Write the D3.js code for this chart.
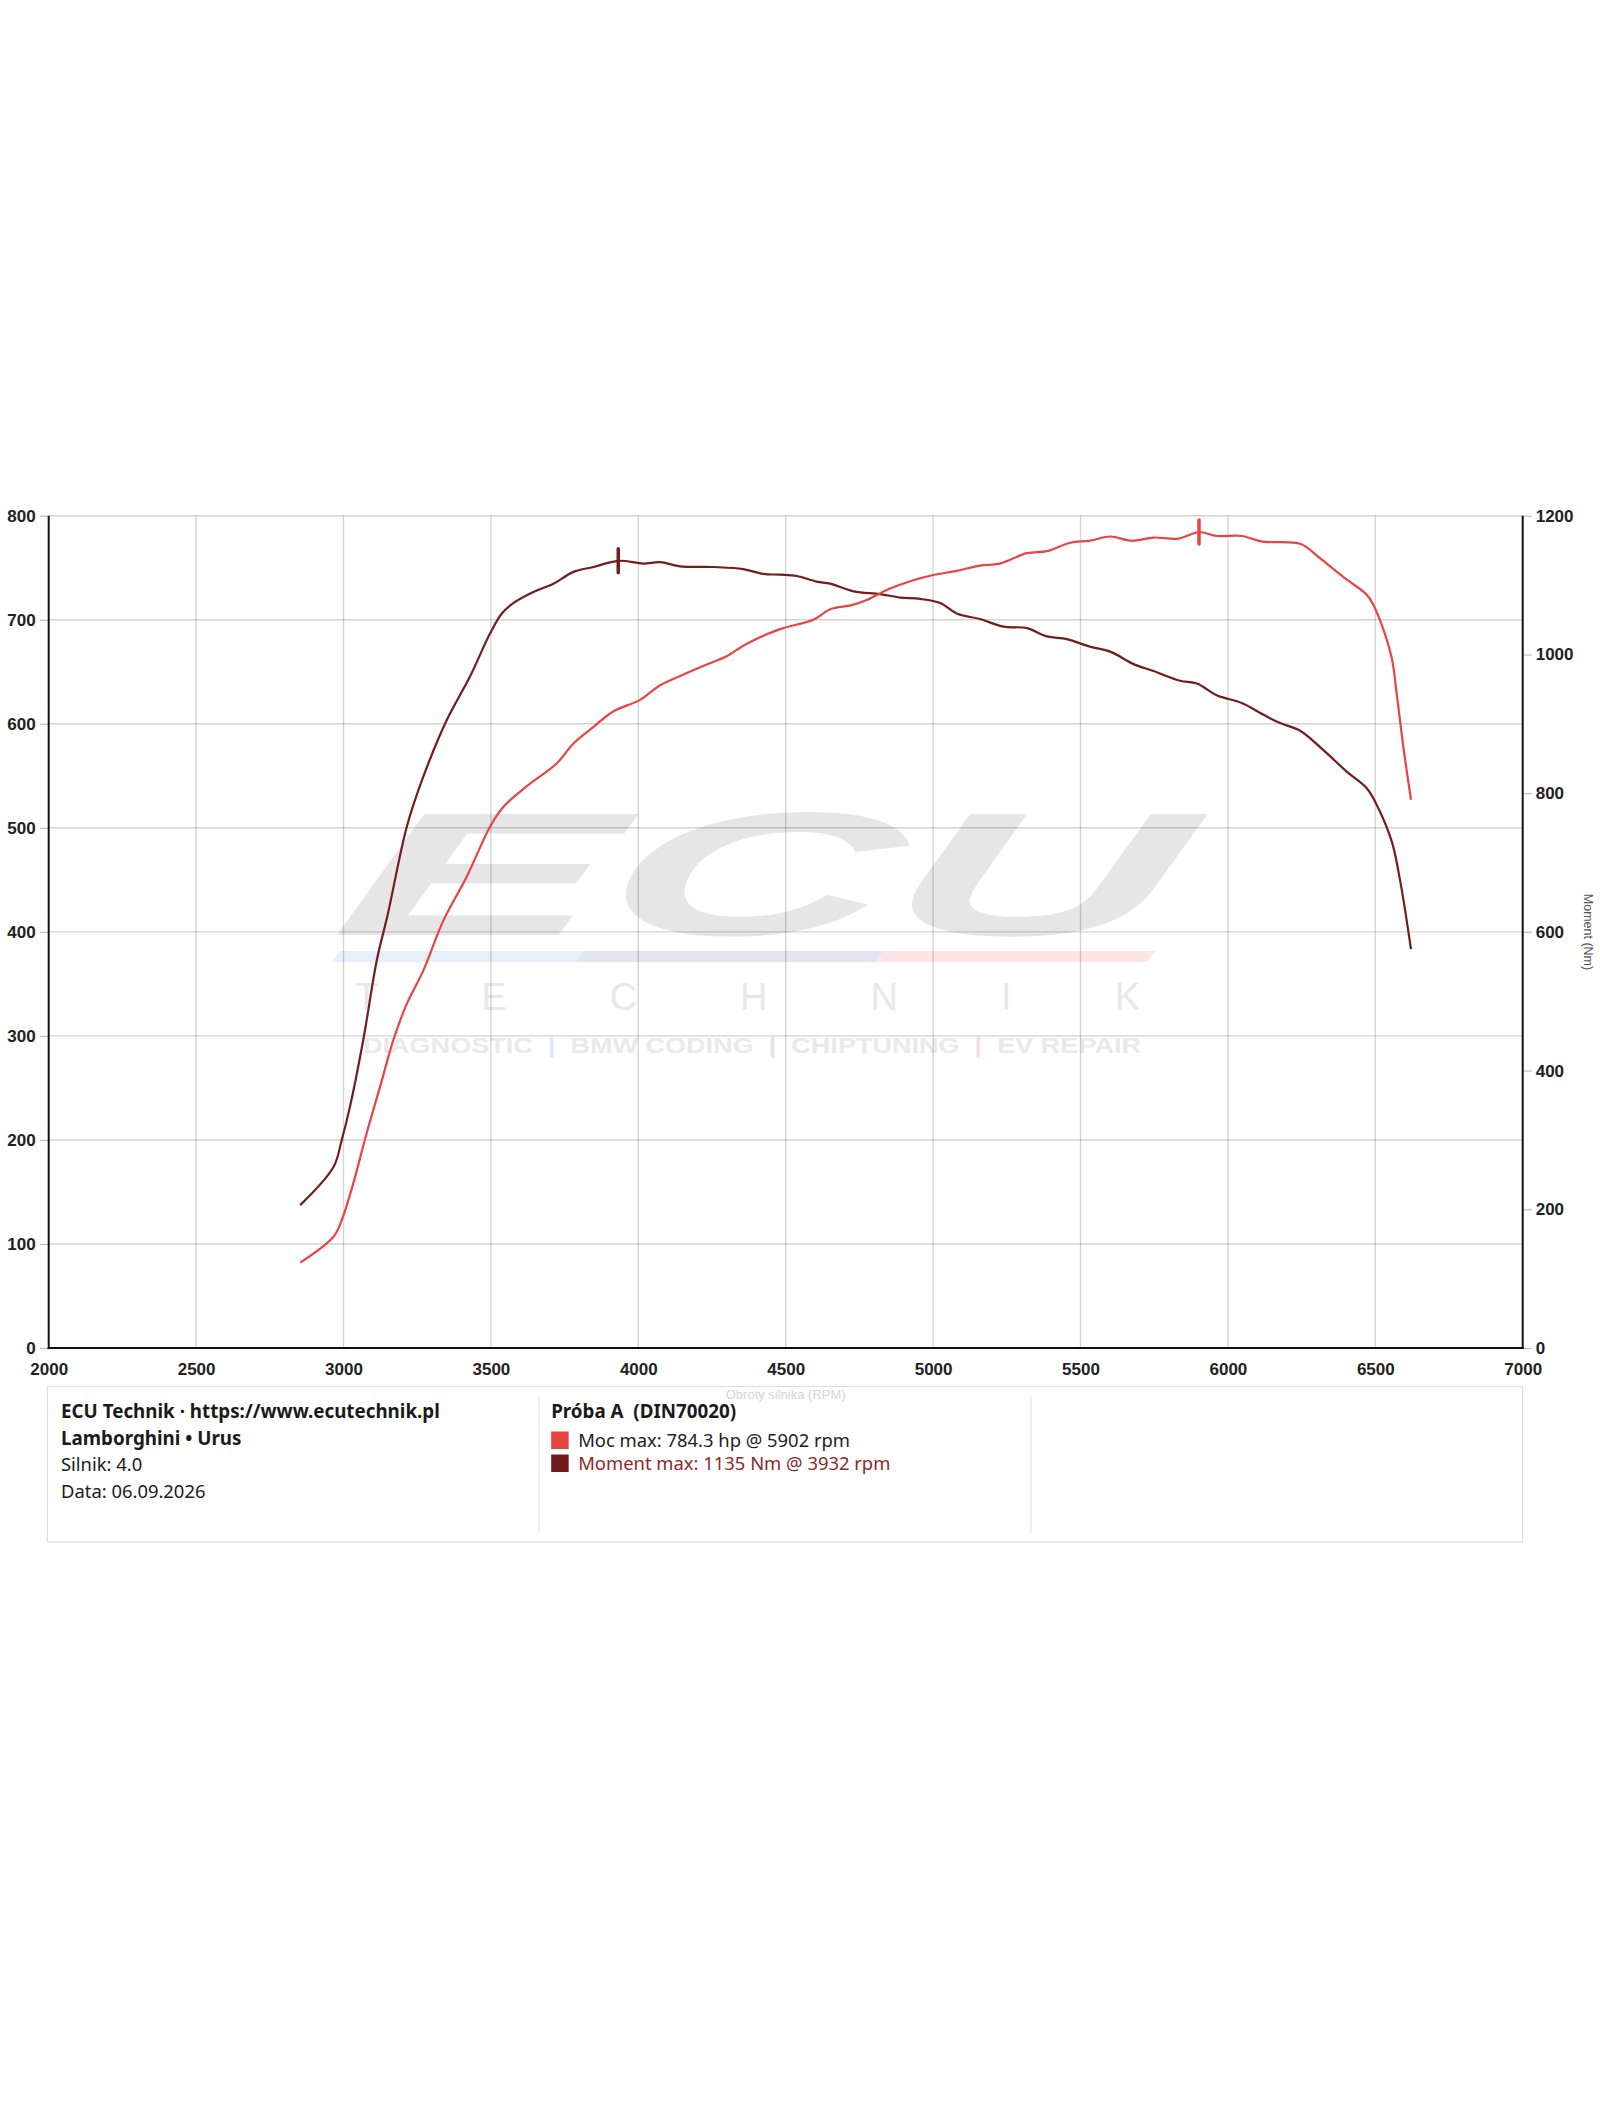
<!DOCTYPE html>
<html>
<head>
<meta charset="utf-8">
<script src="https://cdnjs.cloudflare.com/ajax/libs/d3/7.8.5/d3.min.js"></script>
<style>
  html, body { margin: 0; padding: 0; background: #fff; }
  svg { display: block; }
  .pre { white-space: pre; }
</style>
</head>
<body>
<svg id="chart" width="1600" height="2125"></svg>
<script>
// ---------- DATA ----------
const rpmTicks = [2000, 2500, 3000, 3500, 4000, 4500, 5000, 5500, 6000, 6500, 7000];
const hpTicks = [0, 100, 200, 300, 400, 500, 600, 700, 800];
const nmTicks = [0, 200, 400, 600, 800, 1000, 1200];

const torqueRpm = [2853, 2966, 2994, 3022, 3067, 3113, 3150, 3215, 3271, 3350, 3429, 3497, 3537, 3576, 3644, 3712, 3780, 3848, 3932, 4017, 4074, 4142, 4255, 4356, 4424, 4481, 4538, 4605, 4651, 4730, 4820, 4888, 4956, 5024, 5080, 5159, 5239, 5318, 5386, 5454, 5533, 5601, 5680, 5748, 5838, 5895, 5962, 6047, 6121, 6177, 6245, 6324, 6403, 6471, 6505, 6556, 6585, 6621];
const torqueNm = [206, 261, 300, 348, 444, 559, 625, 752, 824, 905, 968, 1030, 1059, 1074, 1090, 1102, 1119, 1126, 1135, 1131, 1133, 1127, 1126, 1123, 1116, 1115, 1113, 1105, 1102, 1091, 1087, 1082, 1080, 1074, 1059, 1051, 1040, 1038, 1026, 1022, 1011, 1004, 986, 976, 962, 958, 941, 930, 913, 901, 890, 862, 831, 807, 783, 730, 672, 575];

const powerRpm = [2853, 2966, 2994, 3033, 3078, 3124, 3169, 3215, 3271, 3339, 3418, 3497, 3542, 3622, 3724, 3780, 3848, 3916, 4006, 4074, 4142, 4232, 4300, 4368, 4481, 4594, 4651, 4724, 4775, 4854, 4933, 5001, 5080, 5159, 5227, 5318, 5386, 5465, 5533, 5601, 5674, 5748, 5832, 5902, 5962, 6047, 6118, 6245, 6313, 6392, 6471, 6494, 6522, 6556, 6573, 6596, 6621];
const powerHp = [82, 107, 123, 158, 206, 251, 296, 331, 363, 411, 453, 501, 520, 540, 562, 581, 597, 612, 623, 637, 646, 657, 665, 677, 691, 700, 710, 714, 719, 730, 738, 743, 747, 752, 754, 764, 766, 774, 776, 780, 776, 779, 778, 784.3, 780.5, 780.5, 775, 773, 759, 741, 724, 714, 695, 663, 628, 576, 527];

const peakPowerRpm = 5902, peakPowerHp = 784.3;
const peakTorqueRpm = 3932, peakTorqueNm = 1135;

const infoLines = ["ECU Technik · https://www.ecutechnik.pl", "Lamborghini • Urus", "Silnik: 4.0", "Data: 06.09.2026"];
const runTitle = "Próba A  (DIN70020)";
const legendLabels = ["Moc max: 784.3 hp @ 5902 rpm", "Moment max: 1135 Nm @ 3932 rpm"];

// ---------- STYLE ----------
const powerColor = "#e84444";
const torqueColor = "#731c1c";
const torqueTextColor = "#8a2a2a";
const axisFont = "'Liberation Sans', Arial, sans-serif";
const infoFont = "'Noto Sans', 'Open Sans', sans-serif";

const svg = d3.select("#chart");
svg.append("rect").attr("width", 1600).attr("height", 2125).attr("fill", "#fff");

const L = 48.7, R = 1522.7, T = 515.7, B = 1348;
const x = d3.scaleLinear().domain([2000, 7000]).range([L, R]);
const yL = d3.scaleLinear().domain([0, 800]).range([B, T]);
const yR = d3.scaleLinear().domain([0, 1200]).range([B, T]);

// ---------- WATERMARK ----------
const wm = svg.append("g").attr("class", "watermark");
wm.append("g").attr("transform", "translate(330,935) skewX(-16)")
  .append("text")
  .attr("x", 0).attr("y", 0)
  .attr("font-family", axisFont).attr("font-weight", "bold").attr("font-style", "italic")
  .attr("font-size", 176)
  .attr("textLength", 835).attr("lengthAdjust", "spacingAndGlyphs")
  .attr("fill", "#e6e6e6")
  .text("ECU");

const stripes = [[336, 580, "#e4f0fb"], [580, 880, "#e2e4f2"], [880, 1151, "#fde5e7"]];
stripes.forEach(s => {
  wm.append("path")
    .attr("d", `M${s[0] + 4},951 L${s[1] + 4},951 L${s[1] - 4},962 L${s[0] - 4},962 Z`)
    .attr("fill", s[2]);
});
wm.append("text")
  .attr("x", 355).attr("y", 1010)
  .attr("font-family", axisFont).attr("font-size", 38)
  .attr("textLength", 785).attr("lengthAdjust", "spacing")
  .attr("fill", "#e8e8e8")
  .text("TECHNIK");
const tag = wm.append("text")
  .attr("x", 363).attr("y", 1053)
  .attr("font-family", axisFont).attr("font-weight", "bold").attr("font-size", 22)
  .attr("textLength", 778).attr("lengthAdjust", "spacingAndGlyphs")
  .attr("fill", "#e9e9e9");
[["DIAGNOSTIC  ", "#e9e9e9"], ["|  ", "#dce8f7"], ["BMW CODING  ", "#e9e9e9"], ["|  ", "#e3e3e3"], ["CHIPTUNING  ", "#e9e9e9"], ["|  ", "#fbdde0"], ["EV REPAIR", "#e9e9e9"]]
  .forEach(p => tag.append("tspan").attr("class", "pre").attr("fill", p[1]).text(p[0]));

// ---------- GRID ----------
const grid = svg.append("g").attr("class", "grid");
grid.selectAll("line.h").data(hpTicks.filter(d => d > 0)).enter().append("line")
  .attr("x1", L).attr("x2", R)
  .attr("y1", d => yL(d)).attr("y2", d => yL(d))
  .attr("stroke", "rgba(0,0,0,0.17)").attr("stroke-width", 1.4);
grid.selectAll("line.v").data(rpmTicks.filter(d => d > 2000 && d < 7000)).enter().append("line")
  .attr("x1", d => x(d)).attr("x2", d => x(d))
  .attr("y1", T).attr("y2", B)
  .attr("stroke", "rgba(0,0,0,0.17)").attr("stroke-width", 1.4);

// ---------- AXES ----------
function styleAxis(g) {
  g.select(".domain").remove();
  g.selectAll(".tick line").attr("stroke", "#bbb").attr("stroke-width", 1.2);
  g.selectAll(".tick text").attr("font-family", axisFont).attr("font-size", 17)
    .attr("font-weight", "bold").attr("fill", "#222");
}
svg.append("g").attr("transform", `translate(${L},0)`)
  .call(d3.axisLeft(yL).tickValues(hpTicks).tickSize(9).tickPadding(4).tickFormat(d3.format("d")))
  .call(styleAxis);
svg.append("g").attr("transform", `translate(${R},0)`)
  .call(d3.axisRight(yR).tickValues(nmTicks).tickSize(9).tickPadding(4).tickFormat(d3.format("d")))
  .call(styleAxis);
svg.append("g").attr("transform", `translate(0,${B})`)
  .call(d3.axisBottom(x).tickValues(rpmTicks).tickSize(0).tickPadding(15).tickFormat(d3.format("d")))
  .call(styleAxis);

// axis lines
svg.append("line").attr("x1", L).attr("x2", L).attr("y1", T).attr("y2", B + 1).attr("stroke", "#111").attr("stroke-width", 2);
svg.append("line").attr("x1", R).attr("x2", R).attr("y1", T).attr("y2", B + 1).attr("stroke", "#111").attr("stroke-width", 2);
svg.append("line").attr("x1", L - 1).attr("x2", R + 1).attr("y1", B).attr("y2", B).attr("stroke", "#111").attr("stroke-width", 2);

svg.append("text")
  .attr("transform", `translate(1584,932) rotate(90)`)
  .attr("text-anchor", "middle")
  .attr("font-family", axisFont).attr("font-size", 12.5).attr("fill", "#555")
  .text("Moment (Nm)");

// ---------- CURVES ----------
const plot = svg.append("g");
const torqueData = torqueRpm.map((r, i) => [r, torqueNm[i]]);
const powerData = powerRpm.map((r, i) => [r, powerHp[i]]);
const curve = d3.curveCatmullRom.alpha(0.5);

plot.append("path")
  .datum(torqueData)
  .attr("fill", "none").attr("stroke", torqueColor).attr("stroke-width", 2.2)
  .attr("stroke-linejoin", "round")
  .attr("d", d3.line().x(d => x(d[0])).y(d => yR(d[1])).curve(curve));
plot.append("path")
  .datum(powerData)
  .attr("fill", "none").attr("stroke", powerColor).attr("stroke-width", 2.2)
  .attr("stroke-linejoin", "round")
  .attr("d", d3.line().x(d => x(d[0])).y(d => yL(d[1])).curve(curve));

// peak markers
plot.append("line")
  .attr("x1", x(peakTorqueRpm)).attr("x2", x(peakTorqueRpm))
  .attr("y1", yR(peakTorqueNm) - 12).attr("y2", yR(peakTorqueNm) + 12)
  .attr("stroke", torqueColor).attr("stroke-width", 3.5).attr("stroke-linecap", "round");
plot.append("line")
  .attr("x1", x(peakPowerRpm)).attr("x2", x(peakPowerRpm))
  .attr("y1", yL(peakPowerHp) - 12).attr("y2", yL(peakPowerHp) + 12)
  .attr("stroke", powerColor).attr("stroke-width", 3.5).attr("stroke-linecap", "round");

// ---------- INFO BOX ----------
const boxL = 47.5, boxT = 1386.5, boxW = 1475, boxH = 155.5;
svg.append("rect").attr("x", boxL).attr("y", boxT).attr("width", boxW).attr("height", boxH)
  .attr("fill", "#fff").attr("stroke", "#dedede").attr("stroke-width", 1.2);
[1, 2].forEach(k => {
  svg.append("line")
    .attr("x1", boxL + boxW * k / 3).attr("x2", boxL + boxW * k / 3)
    .attr("y1", boxT + 10).attr("y2", boxT + boxH - 9)
    .attr("stroke", "#e6e6e6").attr("stroke-width", 1.2);
});

svg.append("text")
  .attr("x", (L + R) / 2).attr("y", 1399)
  .attr("text-anchor", "middle")
  .attr("font-family", axisFont).attr("font-size", 13).attr("fill", "#d6d6d6")
  .text("Obroty silnika (RPM)");

const infoSize = 18.4, boldSize = 18.8;
const col1 = svg.append("g");
infoLines.forEach((t, i) => {
  col1.append("text")
    .attr("x", 61).attr("y", 1418 + i * 26.6)
    .attr("font-family", infoFont).attr("font-size", i < 2 ? boldSize : infoSize)
    .attr("font-weight", i < 2 ? 700 : 400)
    .attr("fill", "#1a1a1a")
    .text(t);
});

const col2x = boxL + boxW / 3 + 12;
svg.append("text")
  .attr("class", "pre")
  .attr("x", col2x).attr("y", 1418)
  .attr("font-family", infoFont).attr("font-size", boldSize).attr("font-weight", 700)
  .attr("fill", "#1a1a1a")
  .text(runTitle);
const legendColors = [powerColor, torqueColor];
const legendText = ["#222", torqueTextColor];
legendLabels.forEach((t, i) => {
  const cy = 1440 + i * 23;
  svg.append("rect").attr("x", col2x).attr("y", cy - 8.5).attr("width", 17.5).attr("height", 17.5)
    .attr("fill", legendColors[i]);
  svg.append("text")
    .attr("x", col2x + 27).attr("y", cy + 6.5)
    .attr("font-family", infoFont).attr("font-size", infoSize)
    .attr("fill", legendText[i])
    .text(t);
});
</script>
</body>
</html>
